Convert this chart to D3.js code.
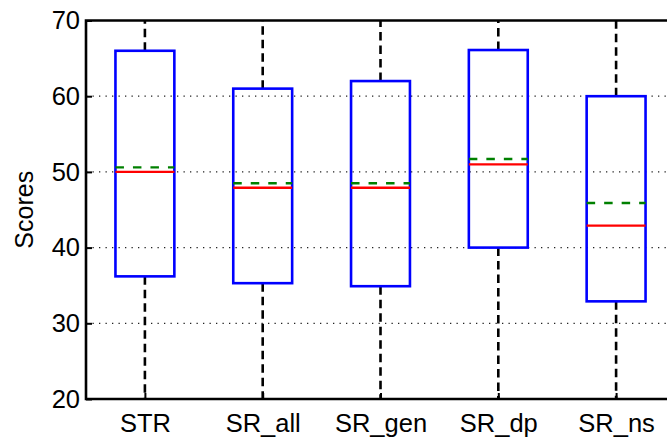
<!DOCTYPE html>
<html>
<head>
<meta charset="utf-8">
<script src="https://cdn.jsdelivr.net/npm/d3@7"></script>
<style>
  html, body { margin: 0; padding: 0; background: #fff; }
  svg { display: block; }
  text { font-family: "Liberation Sans", Arial, Helvetica, sans-serif; fill: #000; }
</style>
</head>
<body>
<svg id="chart" width="667" height="442"></svg>
<script>
// Methods compared
const categories = ["STR", "SR_all", "SR_gen", "SR_dp", "SR_ns"];
// Box statistics per method
const q1Values     = [36.2, 35.3, 34.9, 40.0, 32.9];
const q3Values     = [66.0, 61.0, 62.0, 66.1, 60.0];
const medianValues = [50.0, 47.9, 47.9, 51.0, 42.9];
const meanValues   = [50.6, 48.5, 48.5, 51.7, 45.9];
// Y axis ticks
const yTicks = [20, 30, 40, 50, 60, 70];
const gridTicks = [30, 40, 50, 60];

const svg = d3.select("#chart");
const plot = { left: 86, top: 20.5, right: 675, bottom: 399 };

const x = d3.scaleLinear().domain([0.5, categories.length + 0.5]).range([plot.left, plot.right]);
const y = d3.scaleLinear().domain([20, 70]).range([plot.bottom, plot.top]);
const boxHalf = 0.25;

svg.append("defs").append("clipPath").attr("id", "plotClip")
  .append("rect")
  .attr("x", plot.left).attr("y", plot.top)
  .attr("width", plot.right - plot.left).attr("height", plot.bottom - plot.top);

// Dotted horizontal grid
svg.append("g").selectAll("line").data(gridTicks).join("line")
  .attr("x1", plot.left).attr("x2", plot.right)
  .attr("y1", d => y(d)).attr("y2", d => y(d))
  .attr("stroke", "#222").attr("stroke-width", 1.2)
  .attr("stroke-dasharray", "1.3,5.2");

const data = categories.map((c, i) => ({
  name: c, pos: i + 1, q1: q1Values[i], q3: q3Values[i],
  median: medianValues[i], mean: meanValues[i]
}));

const g = svg.append("g").attr("clip-path", "url(#plotClip)");

// Whiskers run past the visible range
g.selectAll("line.wu").data(data).join("line").attr("class", "wu")
  .attr("x1", d => x(d.pos)).attr("x2", d => x(d.pos))
  .attr("y1", d => y(d.q3)).attr("y2", y(y.domain()[1]) - 5)
  .attr("stroke", "#000").attr("stroke-width", 2.6)
  .attr("stroke-dasharray", "8.5,5");
g.selectAll("line.wl").data(data).join("line").attr("class", "wl")
  .attr("x1", d => x(d.pos)).attr("x2", d => x(d.pos))
  .attr("y1", d => y(d.q1)).attr("y2", y(y.domain()[0]) + 5)
  .attr("stroke", "#000").attr("stroke-width", 2.6)
  .attr("stroke-dasharray", "8.5,5");

// Boxes
g.selectAll("rect.box").data(data).join("rect").attr("class", "box")
  .attr("x", d => x(d.pos - boxHalf))
  .attr("width", d => x(d.pos + boxHalf) - x(d.pos - boxHalf))
  .attr("y", d => y(d.q3))
  .attr("height", d => y(d.q1) - y(d.q3))
  .attr("fill", "none").attr("stroke", "#0000ff").attr("stroke-width", 2.6);

// Medians
g.selectAll("line.med").data(data).join("line").attr("class", "med")
  .attr("x1", d => x(d.pos - boxHalf)).attr("x2", d => x(d.pos + boxHalf))
  .attr("y1", d => y(d.median)).attr("y2", d => y(d.median))
  .attr("stroke", "#ff0000").attr("stroke-width", 2.4);

// Means
g.selectAll("line.mean").data(data).join("line").attr("class", "mean")
  .attr("x1", d => x(d.pos - boxHalf)).attr("x2", d => x(d.pos + boxHalf))
  .attr("y1", d => y(d.mean)).attr("y2", d => y(d.mean))
  .attr("stroke", "#008000").attr("stroke-width", 2.4)
  .attr("stroke-dasharray", "8.5,9");

// Axes frame
svg.append("path")
  .attr("d", `M${plot.right},${plot.top}H${plot.left}V${plot.bottom}H${plot.right}`)
  .attr("fill", "none").attr("stroke", "#000").attr("stroke-width", 2.6)
  .attr("stroke-linecap", "square");

// Y axis ticks and labels
const yAxis = d3.axisLeft(y).tickValues(yTicks).tickSizeInner(-6).tickSizeOuter(0).tickPadding(12);
const ya = svg.append("g").attr("transform", `translate(${plot.left},0)`).call(yAxis);
ya.select(".domain").remove();
ya.selectAll(".tick line").attr("stroke", "#000").attr("stroke-width", 2);
ya.selectAll(".tick text").attr("font-size", 25.5).attr("x", -6)
  .attr("font-family", "'Liberation Sans', Arial, sans-serif");

// X axis labels
const xAxis = d3.axisBottom(x).tickValues(data.map(d => d.pos))
  .tickFormat((d, i) => categories[i]).tickSizeInner(-6).tickSizeOuter(0).tickPadding(15);
const xa = svg.append("g").attr("transform", `translate(0,${plot.bottom})`).call(xAxis);
xa.select(".domain").remove();
xa.selectAll(".tick line").attr("stroke", "#000").attr("stroke-width", 2);
xa.selectAll(".tick text").attr("font-size", 25.5)
  .attr("font-family", "'Liberation Sans', Arial, sans-serif");

// Y axis title
svg.append("text")
  .attr("transform", `translate(33,${(plot.top + plot.bottom) / 2}) rotate(-90)`)
  .attr("text-anchor", "middle")
  .attr("font-size", 25)
  .text("Scores");
</script>
</body>
</html>
